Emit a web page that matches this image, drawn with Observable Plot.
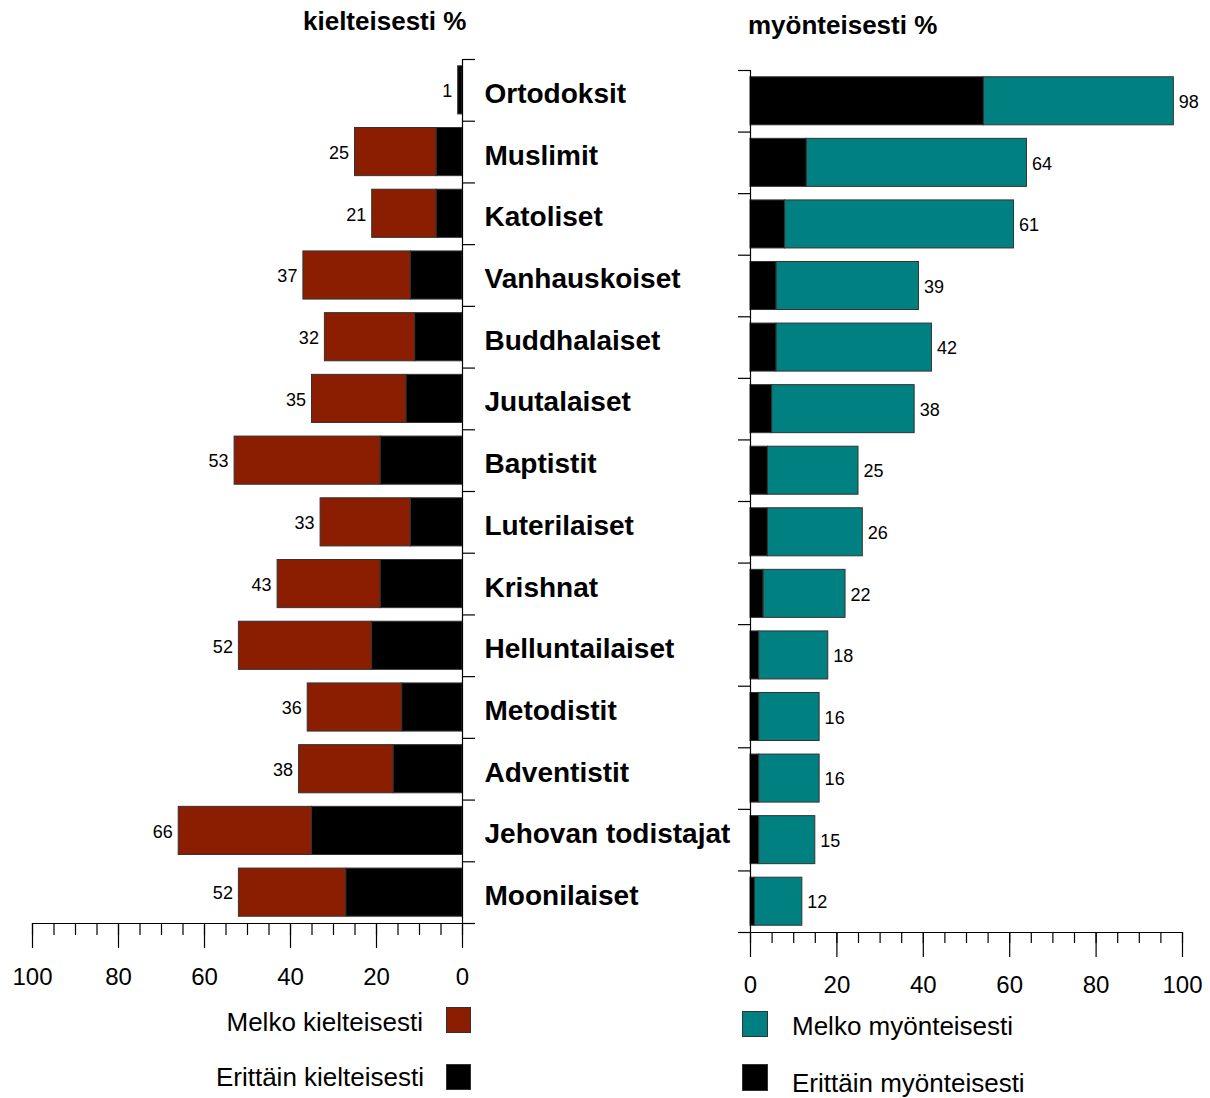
<!DOCTYPE html>
<html>
<head>
<meta charset="utf-8">
<script src="https://cdn.jsdelivr.net/npm/d3@7"></script>
<script src="https://cdn.jsdelivr.net/npm/@observablehq/plot@0.6"></script>
<style>
  body { margin: 0; background: #fff; font-family: "Liberation Sans", Arial, sans-serif; }
  #wrap { position: relative; width: 1210px; height: 1098px; overflow: hidden; background: #fff; }
  .abs { position: absolute; white-space: nowrap; line-height: 1; color: #000; }
  .title { font-size: 26px; font-weight: bold; }
  .leg { font-size: 26px; }
  .sw { position: absolute; box-sizing: border-box; border: 1px solid #333; }
  #left, #right { position: absolute; top: 0; }
  #left { left: 0; }
  #right { left: 700px; }
</style>
</head>
<body>
<div id="wrap">
  <div class="abs title" style="left:303px; top:8px;">kielteisesti %</div>
  <div class="abs title" style="left:748px; top:12px;">myönteisesti %</div>
  <div id="left"></div>
  <div id="right"></div>
  <div class="abs leg" style="right:787px; top:1009px;">Melko kielteisesti</div>
  <div class="sw" style="left:446px; top:1007px; width:25px; height:26px; background:#8B1E00;"></div>
  <div class="abs leg" style="right:786px; top:1064px;">Erittäin kielteisesti</div>
  <div class="sw" style="left:446px; top:1064px; width:25px; height:26px; background:#000;"></div>
  <div class="sw" style="left:742px; top:1011px; width:26px; height:26px; background:#008080;"></div>
  <div class="abs leg" style="left:792px; top:1013px;">Melko myönteisesti</div>
  <div class="sw" style="left:742px; top:1064px; width:26px; height:27px; background:#000;"></div>
  <div class="abs leg" style="left:792px; top:1070px;">Erittäin myönteisesti</div>
</div>
<script>
const categories = ["Ortodoksit","Muslimit","Katoliset","Vanhauskoiset","Buddhalaiset","Juutalaiset","Baptistit","Luterilaiset","Krishnat","Helluntailaiset","Metodistit","Adventistit","Jehovan todistajat","Moonilaiset"];
// kielteisesti: erittäin (black) and total (label)
const negStrong = [1, 6, 6, 12, 11, 13, 19, 12, 19, 21, 14, 16, 35, 27];
const negTotal  = [1, 25, 21, 37, 32, 35, 53, 33, 43, 52, 36, 38, 66, 52];
// myönteisesti: erittäin (black) and total (label)
const posStrong = [54, 13, 8, 6, 6, 5, 4, 4, 3, 2, 2, 2, 2, 1];
const posTotal  = [98, 64, 61, 39, 42, 38, 25, 26, 22, 18, 16, 16, 15, 12];
const majorTicks = [0, 20, 40, 60, 80, 100];
const minorTicks = [0,5,10,15,20,25,30,35,40,45,50,55,60,65,70,75,80,85,90,95,100];

const RED = "#8B1E00", TEAL = "#008080", BLACK = "#000";
const half = 0.39;
const n = categories.length;
const idx = d3.range(n);
const bounds = d3.range(n + 1).map(k => k - 0.5);

const neg = idx.map(i => ({i, strong: negStrong[i], total: negTotal[i]}));
const pos = idx.map(i => ({i, strong: posStrong[i], total: posTotal[i]}));

const style = {fontFamily: '"Liberation Sans", Arial, sans-serif', fontSize: "18px", color: "#000", background: "transparent", overflow: "visible"};

const left = Plot.plot({
  width: 740, height: 1000,
  marginLeft: 32, marginRight: 278, marginTop: 59, marginBottom: 77,
  x: {domain: [0, 100], reverse: true},
  y: {domain: [-0.5, n - 0.5], reverse: true},
  style,
  marks: [
    Plot.rect(neg, {x1: d => d.strong, x2: d => d.total, y1: d => d.i - half, y2: d => d.i + half, fill: RED, stroke: "#333", strokeWidth: 1}),
    Plot.rect(neg, {x1: d => 0, x2: d => d.strong, y1: d => d.i - half, y2: d => d.i + half, fill: BLACK, stroke: "#333", strokeWidth: 1}),
    Plot.text(neg, {x: "total", y: "i", text: d => String(d.total), dx: -6, dy: 1, textAnchor: "end", fontSize: 18}),
    Plot.ruleX([0], {stroke: "#000", strokeWidth: 1.2}),
    Plot.ruleY([n - 0.5], {stroke: "#000", strokeWidth: 1.2}),
    Plot.axisY(idx, {anchor: "right", tickSize: 0, tickPadding: 22, tickFormat: i => categories[i], fontSize: 28, fontWeight: "bold", textAnchor: "start", dy: 3.5, label: null}),
    Plot.axisY(bounds, {anchor: "right", tickSize: 12, tickFormat: () => "", label: null, strokeWidth: 1.2}),
    Plot.axisX(majorTicks, {anchor: "bottom", tickSize: 25, tickPadding: 19, fontSize: 24, label: null, strokeWidth: 1.2}),
    Plot.axisX(minorTicks, {anchor: "bottom", tickSize: 12, tickFormat: () => "", label: null, strokeWidth: 1.2})
  ]
});
document.getElementById("left").appendChild(left);

const right = Plot.plot({
  width: 510, height: 1000,
  marginLeft: 50, marginRight: 28, marginTop: 70, marginBottom: 68,
  x: {domain: [0, 100]},
  y: {domain: [-0.5, n - 0.5], reverse: true},
  style,
  marks: [
    Plot.rect(pos, {x1: d => d.strong, x2: d => d.total, y1: d => d.i - half, y2: d => d.i + half, fill: TEAL, stroke: "#333", strokeWidth: 1}),
    Plot.rect(pos, {x1: d => 0, x2: d => d.strong, y1: d => d.i - half, y2: d => d.i + half, fill: BLACK, stroke: "#333", strokeWidth: 1}),
    Plot.text(pos, {x: "total", y: "i", text: d => String(d.total), dx: 5, dy: 1, textAnchor: "start", fontSize: 18}),
    Plot.ruleX([0], {stroke: "#000", strokeWidth: 1.2}),
    Plot.ruleY([n - 0.5], {stroke: "#000", strokeWidth: 1.2}),
    Plot.axisY(bounds, {anchor: "left", tickSize: 12, tickFormat: () => "", label: null, strokeWidth: 1.2}),
    Plot.axisX(majorTicks, {anchor: "bottom", tickSize: 25, tickPadding: 18, fontSize: 24, label: null, strokeWidth: 1.2}),
    Plot.axisX(minorTicks, {anchor: "bottom", tickSize: 11, tickFormat: () => "", label: null, strokeWidth: 1.2})
  ]
});
document.getElementById("right").appendChild(right);
</script>
</body>
</html>
